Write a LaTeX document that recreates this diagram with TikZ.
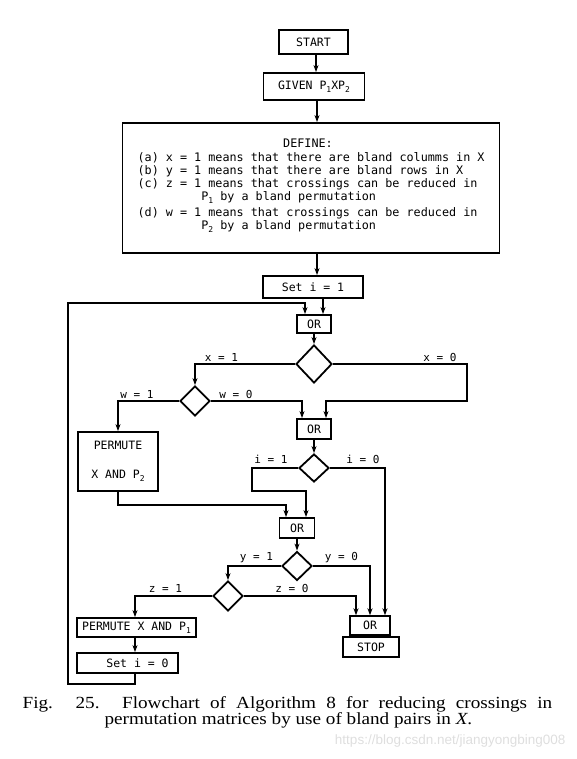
\documentclass[tikz,border=0pt]{standalone}
\usepackage{fontspec}
\usepackage{graphicx}
\setmainfont{Liberation Serif}
\newfontfamily\monofam{DejaVu Sans Mono}
\newfontfamily\wmfont{Liberation Sans}
\usetikzlibrary{shapes.geometric,arrows.meta}
\newcommand{\lsub}[1]{\raisebox{-0.45ex}{\fontsize{8}{8}\selectfont #1}}
\tikzset{
  boxfont/.style={font={\monofam\fontsize{11.5}{13}\selectfont}},
  fbox/.style={draw, line width=1.8pt, inner sep=0pt, boxfont},
  dia/.style={draw, diamond, line width=1.8pt, inner sep=0pt},
  lbl/.style={inner sep=0pt, anchor=south, font={\monofam\fontsize{11}{12}\selectfont}},
  arr/.style={-{Stealth[length=7pt,width=5pt]}, line width=1.2pt},
}
\begin{document}
\begin{tikzpicture}[x=1pt,y=-1pt,line width=1.2pt]
\useasboundingbox (0,0) rectangle (576,759);
% helper x coordinates
\coordinate (sp1) at (316,0);
\coordinate (sp2) at (317,0);
\coordinate (a323) at (323,0);
\coordinate (a305) at (305,0);
\coordinate (a326) at (326,0);
\coordinate (a302) at (302,0);
\coordinate (a306) at (306,0);
\coordinate (a286) at (286,0);
\coordinate (a385) at (385,0);
\coordinate (a370) at (370,0);
\coordinate (a356) at (356,0);
\coordinate (a135) at (135,0);

% boxes
\node[fbox, minimum width=69pt, minimum height=24pt] (start) at (313.5,42) {START};
\node[fbox, minimum width=101pt, minimum height=27pt] (give) at (314,86.5) {GIVEN P\lsub{1}XP\lsub{2}};
\node[fbox, minimum width=377pt, minimum height=130pt] (def) at (311,188) {};
\node[inner sep=0pt, anchor=base, font={\monofam\fontsize{11.76}{13}\selectfont}] (deft) at (308,148) {DEFINE:};
\node[inner sep=0pt, anchor=north west, align=left, font={\monofam\fontsize{11.76}{13}\selectfont}] (defx) at (137,152)
 {(a) x = 1 means that there are bland columms in X\\
  (b) y = 1 means that there are bland rows in X\\
  (c) z = 1 means that crossings can be reduced in\\
  \phantom{(c) z = 1}P\lsub{1} by a bland permutation\\[3pt]
  (d) w = 1 means that crossings can be reduced in\\
  \phantom{(d) w = 1}P\lsub{2} by a bland permutation};
\node[fbox, minimum width=100pt, minimum height=22pt] (set1) at (313,287) {Set i = 1};
\node[fbox, minimum width=34pt, minimum height=18pt] (or1) at (314,324) {OR};
\node[dia, minimum width=36pt, minimum height=38pt] (d1) at (314,364) {};
\node[dia, minimum width=30pt, minimum height=30pt] (d2) at (195,401) {};
\node[fbox, minimum width=34pt, minimum height=20pt] (or2) at (314,429) {OR};
\node[fbox, minimum width=80pt, minimum height=59pt, align=center] (perm2) at (118,461.5) {PERMUTE\\[16pt]X AND P\lsub{2}};
\node[dia, minimum width=30pt, minimum height=28pt] (d3) at (314,468) {};
\node[fbox, minimum width=35pt, minimum height=20pt] (or3) at (297,528) {OR};
\node[dia, minimum width=30pt, minimum height=29pt] (d4) at (297,566) {};
\node[dia, minimum width=30pt, minimum height=30pt] (d5) at (228,596) {};
\node[fbox, minimum width=119pt, minimum height=19pt] (permp1) at (136.5,627.5) {PERMUTE X AND P\lsub{1}};
\node[fbox, minimum width=101pt, minimum height=20pt] (set0) at (127.5,663) {\hspace*{20pt}Set i = 0};
\node[fbox, minimum width=56pt, minimum height=20pt] (stop) at (371,647) {STOP};
\node[fbox, minimum width=40pt, minimum height=19pt, anchor=south] (orstop) at (stop.north -| 370,0) {OR};

% labels
\node[lbl] (lx1) at (221.5,362) {x = 1};
\node[lbl] (lx0) at (440,362) {x = 0};
\node[lbl] (lw1) at (137,399) {w = 1};
\node[lbl] (lw0) at (236,399) {w = 0};
\node[lbl] (li1) at (271,464) {i = 1};
\node[lbl] (li0) at (363,464) {i = 0};
\node[lbl] (ly1) at (256.5,563) {y = 1};
\node[lbl] (ly0) at (341.5,563) {y = 0};
\node[lbl] (lz1) at (165.5,593) {z = 1};
\node[lbl] (lz0) at (292,593) {z = 0};

% connectors
\draw[arr] (start.south -| sp1) -- (give.north -| sp1);
\draw[arr] (give.south -| sp2) -- (def.north -| sp2);
\draw[arr] (def.south -| sp2) -- (set1.north -| sp2);
\draw[arr] (set1.south -| a323) -- (or1.north -| a323);
\draw[arr] (or1.south) -- (d1.north);
\draw[arr] (d1.west) -| (d2.north);
\draw[arr] (d1.east) -| (467,401) -| (or2.north -| a326);
\draw[arr] (d2.west) -| (perm2.north);
\draw[arr] (d2.east) -| (or2.north -| a302);
\draw[arr] (or2.south) -- (d3.north);
\draw[arr] (d3.west) -| (252,491) -| (or3.north -| a306);
\draw[arr] (d3.east) -| (orstop.north -| a385);
\draw[arr] (perm2.south) -- ++(0,13) -| (or3.north -| a286);
\draw[arr] (or3.south) -- (d4.north);
\draw[arr] (d4.west) -| (d5.north);
\draw[arr] (d4.east) -| (orstop.north -| a370);
\draw[arr] (d5.west) -| (permp1.north -| a135);
\draw[arr] (d5.east) -| (orstop.north -| a356);
\draw[arr] (permp1.south -| a135) -- (set0.north -| a135);
\draw[arr] (set0.south -| a135) -- ++(0,10) -| (68,303) -| (or1.north -| a305);

% caption
\node[anchor=base west, inner sep=0pt] (cap1) at (22,708)
 {\fontsize{17}{17}\selectfont\scalebox{1.127}[1]{\makebox[470pt][s]{Fig. 25. Flowchart of Algorithm 8 for reducing crossings in}}};
\node[anchor=base west, inner sep=0pt] (cap2) at (104,724)
 {\fontsize{17}{17}\selectfont\scalebox{1.127}[1]{permutation matrices by use of bland pairs in \textit{X}.}};
\node[anchor=base east, inner sep=0pt, text=black!13] (wm) at (566,744)
 {\wmfont\fontsize{13.5}{13}\selectfont https://blog.csdn.net/jiangyongbing008};
\end{tikzpicture}
\end{document}
